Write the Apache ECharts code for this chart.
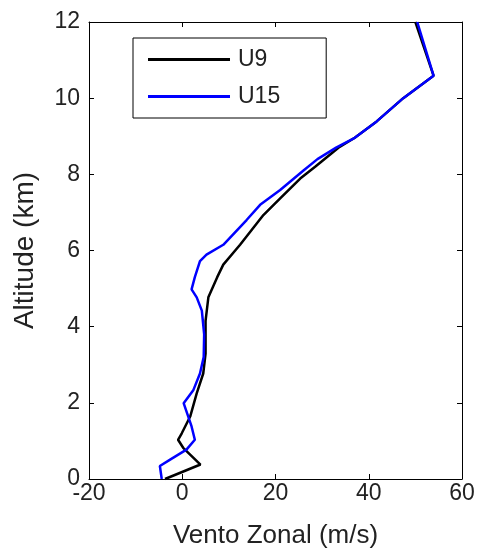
<!DOCTYPE html>
<html>
<head>
<meta charset="utf-8">
<script src="https://cdn.jsdelivr.net/npm/echarts@6/dist/echarts.min.js"></script>
<style>
  html, body { margin: 0; padding: 0; background: #fff; }
  #chart { width: 480px; height: 554px; }
</style>
</head>
<body>
<div id="chart"></div>
<script>
// wind profiles, [u (m/s), altitude (km)]
let u9 = [
  [-3.7, 0], [3.9, 0.38], [0.2, 0.82], [-0.9, 1.03], [-0.1, 1.2], [1.7, 1.64],
  [3.1, 2.25], [4.5, 2.77], [5.0, 3.29], [5.0, 4.15], [5.6, 4.77], [7.5, 5.3],
  [8.8, 5.63], [12.4, 6.15], [17.4, 6.93], [21, 7.37], [25.3, 7.89], [28.5, 8.2],
  [31, 8.45], [33.5, 8.7], [37, 8.96], [41.7, 9.39], [47.4, 10.0], [53.9, 10.59], [50, 12]
];
let u15 = [
  [-4.4, 0], [-4.8, 0.34], [-2.6, 0.51], [0.9, 0.77], [2.7, 1.03], [2.0, 1.38],
  [0.3, 1.99], [2.4, 2.34], [3.8, 2.77], [4.6, 3.2], [4.7, 3.8], [4.2, 4.42],
  [3.1, 4.77], [2.0, 4.98], [2.7, 5.3], [3.8, 5.72], [5.2, 5.89], [8.8, 6.15],
  [13.8, 6.8], [16.7, 7.2], [21, 7.59], [26, 8.1], [29, 8.4], [33, 8.7],
  [37, 8.96], [41.7, 9.39], [47.4, 10.0], [53.9, 10.59], [50.4, 12]
];
let seriesNames = ['U9', 'U15'];
let xTicks = [-20, 0, 20, 40, 60];
let yTicks = [0, 2, 4, 6, 8, 10, 12];

let font = 'Liberation Sans, Arial, sans-serif';
let labelStyle = {color: '#222', fontSize: 23, fontFamily: font};
let chart = echarts.init(document.getElementById('chart'));

let axisBase = {
  type: 'value',
  axisLine: {show: true, onZero: false, lineStyle: {color: '#000', width: 1}},
  axisTick: {show: true, inside: true, length: 5, lineStyle: {color: '#000'}},
  splitLine: {show: false}
};

chart.setOption({
  animation: false,
  grid: {left: 89, right: 18, top: 22, bottom: 71},
  legend: {
    left: 133, top: 38,
    orient: 'vertical',
    data: seriesNames,
    icon: 'rect',
    itemWidth: 82, itemHeight: 3, itemGap: 14,
    padding: [10, 46, 10, 15],
    borderColor: '#000', borderWidth: 1,
    backgroundColor: '#fff',
    textStyle: {color: '#222', fontSize: 23, fontFamily: font, padding: [0, 0, 0, 3]}
  },
  xAxis: [
    Object.assign({}, axisBase, {
      min: xTicks[0], max: xTicks[xTicks.length - 1], interval: 20,
      position: 'bottom',
      axisLabel: Object.assign({margin: 3}, labelStyle),
      name: 'Vento Zonal (m/s)', nameLocation: 'middle', nameGap: 44,
      nameTextStyle: Object.assign({}, labelStyle, {fontSize: 26})
    }),
    Object.assign({}, axisBase, {
      min: xTicks[0], max: xTicks[xTicks.length - 1], interval: 20,
      position: 'top', axisLabel: {show: false}
    })
  ],
  yAxis: [
    Object.assign({}, axisBase, {
      min: yTicks[0], max: yTicks[yTicks.length - 1], interval: 2,
      position: 'left',
      axisLabel: Object.assign({margin: 9}, labelStyle),
      name: 'Altitude (km)', nameLocation: 'middle', nameGap: 50,
      nameTextStyle: Object.assign({}, labelStyle, {fontSize: 28})
    }),
    Object.assign({}, axisBase, {
      min: yTicks[0], max: yTicks[yTicks.length - 1], interval: 2,
      position: 'right', axisLabel: {show: false}
    })
  ],
  series: [
    {name: seriesNames[0], type: 'line', data: u9, showSymbol: false, symbol: 'none',
     lineStyle: {color: '#000', width: 2.5}, itemStyle: {color: '#000'}},
    {name: seriesNames[1], type: 'line', data: u15, showSymbol: false, symbol: 'none',
     lineStyle: {color: '#0000ff', width: 2.5}, itemStyle: {color: '#0000ff'}}
  ]
});
</script>
</body>
</html>
